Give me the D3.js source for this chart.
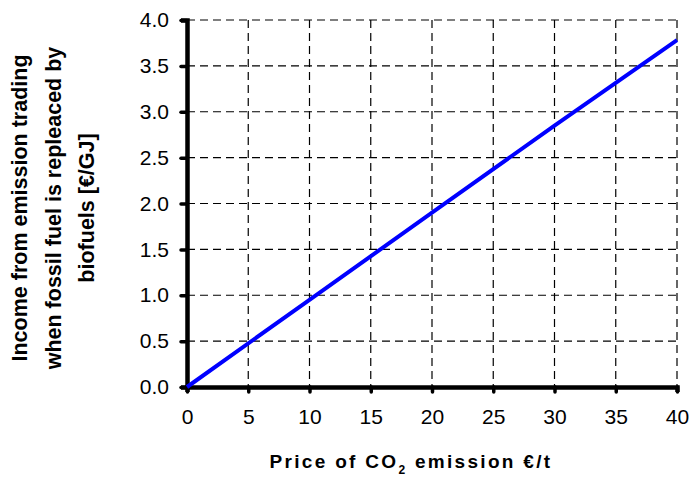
<!DOCTYPE html>
<html>
<head>
<meta charset="utf-8">
<script src="https://cdn.jsdelivr.net/npm/d3@7"></script>
<style>
  body { margin: 0; background: #fff; }
  text { font-family: "Liberation Sans", Arial, sans-serif; }
</style>
</head>
<body>
<svg id="chart" width="691" height="478"></svg>
<script>
// values
const co2Price = [0, 10, 20, 30, 40];
const income = [0, 0.95, 1.9, 2.85, 3.78];
const xTicks = [0, 5, 10, 15, 20, 25, 30, 35, 40];
const yTicks = [0, 0.5, 1, 1.5, 2, 2.5, 3, 3.5, 4];
const yTitle = ["Income from emission trading", "when fossil fuel is repleaced by", "biofuels [€/GJ]"];

const svg = d3.select('#chart');
const margin = {left: 187, right: 14, top: 20, bottom: 91};
const w = 691 - margin.left - margin.right;
const h = 478 - margin.top - margin.bottom;

const x = d3.scaleLinear().domain([0, 40]).range([0, w]);
const y = d3.scaleLinear().domain([0, 4]).range([h, 0]);

const g = svg.append('g').attr('transform', 'translate(' + margin.left + ',' + margin.top + ')');

// dashed grid
g.selectAll('.hgrid').data(yTicks.filter(d => d > 0)).enter().append('line')
    .attr('x1', 0).attr('x2', w)
    .attr('y1', d => y(d)).attr('y2', d => y(d))
    .attr('stroke', '#000').attr('stroke-width', 1.2).attr('stroke-dasharray', '8,5');
g.selectAll('.vgrid').data(xTicks.filter(d => d > 0)).enter().append('line')
    .attr('y1', 0).attr('y2', h)
    .attr('x1', d => x(d)).attr('x2', d => x(d))
    .attr('stroke', '#000').attr('stroke-width', 1.2).attr('stroke-dasharray', '8,5');

// axes
const xAxis = g.append('g').attr('transform', 'translate(0,' + h + ')')
    .call(d3.axisBottom(x).tickValues(xTicks).tickSize(5).tickPadding(17).tickFormat(d3.format('d')));
const yAxis = g.append('g')
    .call(d3.axisLeft(y).tickValues(yTicks).tickSize(6).tickPadding(12).tickFormat(d3.format('.1f')));

[xAxis, yAxis].forEach(a => {
    a.select('.domain').attr('stroke', '#000').attr('stroke-width', 4.5);
    a.selectAll('.tick line').attr('stroke', '#000').attr('stroke-width', 3.5).attr('stroke-linecap', 'round');
    a.selectAll('.tick text').attr('font-size', 21).attr('fill', '#000')
        .style('font-family', '"Liberation Sans", Arial, sans-serif');
});

// data line
const line = d3.line().x((d, i) => x(co2Price[i])).y(d => y(d));
g.append('path').datum(income)
    .attr('d', line)
    .attr('fill', 'none')
    .attr('stroke', '#0000ff')
    .attr('stroke-width', 4);

// x title
const xt = svg.append('text')
    .attr('x', 411).attr('y', 468)
    .attr('text-anchor', 'middle')
    .attr('font-size', 19).attr('font-weight', 'bold')
    .attr('letter-spacing', 2.3);
xt.append('tspan').text('Price of CO');
xt.append('tspan').attr('font-size', 12).attr('dy', 6).text('2');
xt.append('tspan').attr('dy', -6).text(' emission €/t');

// y title
const yt = svg.append('text')
    .attr('transform', 'translate(0,208) rotate(-90)')
    .attr('text-anchor', 'middle')
    .attr('font-size', 21.5).attr('font-weight', 'bold');
yTitle.forEach((s, i) => {
    yt.append('tspan').attr('x', 0).attr('y', 27 + i * 33.5).text(s);
});
</script>
</body>
</html>
